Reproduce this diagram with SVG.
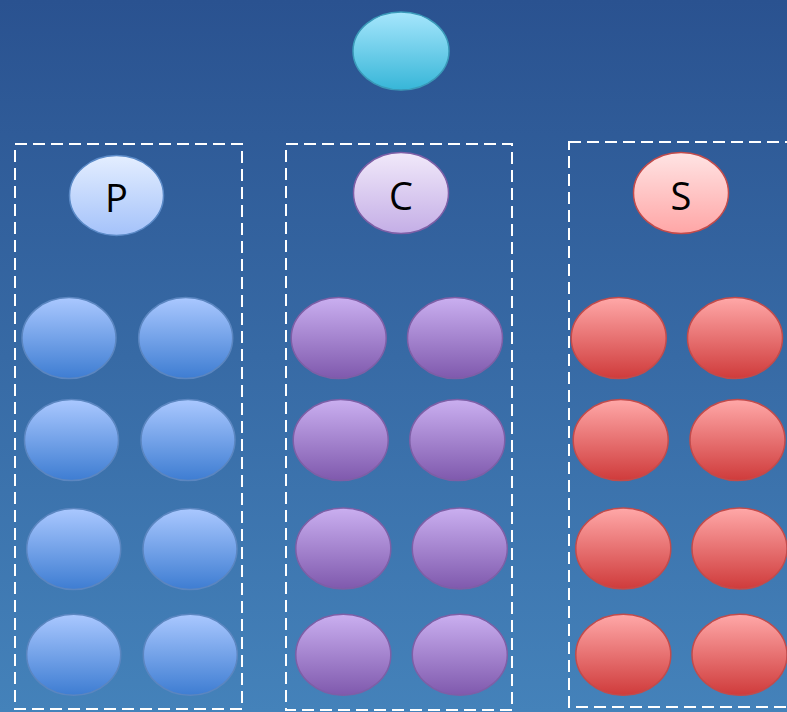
<svg xmlns="http://www.w3.org/2000/svg" width="787" height="712" viewBox="0 0 787 712">
<defs>
<linearGradient id="bg" x1="0" y1="0" x2="0" y2="1">
<stop offset="0" stop-color="#2a5290"/>
<stop offset="1" stop-color="#4482ba"/>
</linearGradient>
<linearGradient id="gTop" x1="0" y1="0" x2="0" y2="1">
<stop offset="0" stop-color="#a6e6fc"/>
<stop offset="1" stop-color="#37b6d8"/>
</linearGradient>
<linearGradient id="gPh" x1="0" y1="0" x2="0" y2="1">
<stop offset="0" stop-color="#e4eeff"/>
<stop offset="1" stop-color="#a4c2fa"/>
</linearGradient>
<linearGradient id="gCh" x1="0" y1="0" x2="0" y2="1">
<stop offset="0" stop-color="#f1e9fa"/>
<stop offset="1" stop-color="#c4aee6"/>
</linearGradient>
<linearGradient id="gSh" x1="0" y1="0" x2="0" y2="1">
<stop offset="0" stop-color="#ffe4e4"/>
<stop offset="1" stop-color="#ffa6a6"/>
</linearGradient>
<linearGradient id="gP" x1="0" y1="0" x2="0" y2="1">
<stop offset="0" stop-color="#aac8ff"/>
<stop offset="1" stop-color="#3e7dd2"/>
</linearGradient>
<linearGradient id="gC" x1="0" y1="0" x2="0" y2="1">
<stop offset="0" stop-color="#caaff0"/>
<stop offset="1" stop-color="#7f59ad"/>
</linearGradient>
<linearGradient id="gS" x1="0" y1="0" x2="0" y2="1">
<stop offset="0" stop-color="#ffa8a8"/>
<stop offset="1" stop-color="#cf3b3b"/>
</linearGradient>
</defs>
<style>
.box{fill:none;stroke:#ffffff;stroke-width:2;stroke-dasharray:12 6}
.p{fill:url(#gP);stroke:#5b86c0;stroke-width:1.5}
.c{fill:url(#gC);stroke:#7d5fa6;stroke-width:1.5}
.s{fill:url(#gS);stroke:#c24b4b;stroke-width:1.5}
.lbl{font-family:"Open Sans","Liberation Sans",sans-serif;font-size:38px;fill:#000;text-anchor:middle}
</style>
<rect x="0" y="0" width="787" height="712" fill="url(#bg)"/>
<g id="connectors"/>
<g id="root"><ellipse cx="401" cy="51" rx="48" ry="39" fill="url(#gTop)" stroke="#3a9ab9" stroke-width="1.5"/></g>
<g id="groupP">
<rect class="box" x="15" y="144" width="227" height="565"/>
<g id="P"><ellipse cx="116.5" cy="195.5" rx="47" ry="40" fill="url(#gPh)" stroke="#5b8ac7" stroke-width="1.5"/><text class="lbl" x="116.5" y="211.5">P</text></g>
<g id="P1"><ellipse class="p" cx="69" cy="338" rx="47" ry="40.5"/></g>
<g id="P2"><ellipse class="p" cx="185.7" cy="338" rx="47" ry="40.5"/></g>
<g id="P3"><ellipse class="p" cx="71.5" cy="440" rx="47" ry="40.5"/></g>
<g id="P4"><ellipse class="p" cx="188" cy="440" rx="47" ry="40.5"/></g>
<g id="P5"><ellipse class="p" cx="73.7" cy="549" rx="47" ry="40.5"/></g>
<g id="P6"><ellipse class="p" cx="190" cy="549" rx="47" ry="40.5"/></g>
<g id="P7"><ellipse class="p" cx="73.7" cy="654.7" rx="47" ry="40.5"/></g>
<g id="P8"><ellipse class="p" cx="190.3" cy="654.7" rx="47" ry="40.5"/></g>
</g>
<g id="groupC">
<rect class="box" x="286" y="144" width="226" height="566"/>
<g id="C"><ellipse cx="401" cy="193" rx="47.5" ry="40.5" fill="url(#gCh)" stroke="#7d5fa6" stroke-width="1.5"/><text class="lbl" x="401" y="209.5">C</text></g>
<g id="C1"><ellipse class="c" cx="338.7" cy="338" rx="47.5" ry="40.5"/></g>
<g id="C2"><ellipse class="c" cx="455" cy="338" rx="47.5" ry="40.5"/></g>
<g id="C3"><ellipse class="c" cx="340.7" cy="440" rx="47.5" ry="40.5"/></g>
<g id="C4"><ellipse class="c" cx="457.3" cy="440" rx="47.5" ry="40.5"/></g>
<g id="C5"><ellipse class="c" cx="343.3" cy="548.5" rx="47.5" ry="40.5"/></g>
<g id="C6"><ellipse class="c" cx="459.8" cy="548.5" rx="47.5" ry="40.5"/></g>
<g id="C7"><ellipse class="c" cx="343.3" cy="654.8" rx="47.5" ry="40.5"/></g>
<g id="C8"><ellipse class="c" cx="459.8" cy="654.8" rx="47.5" ry="40.5"/></g>
</g>
<g id="groupS">
<rect class="box" x="569" y="142" width="240" height="565"/>
<g id="S"><ellipse cx="681" cy="193" rx="47.5" ry="40.5" fill="url(#gSh)" stroke="#c24b4b" stroke-width="1.5"/><text class="lbl" x="681" y="209.5">S</text></g>
<g id="S1"><ellipse class="s" cx="618.7" cy="338" rx="47.5" ry="40.5"/></g>
<g id="S2"><ellipse class="s" cx="735" cy="338" rx="47.5" ry="40.5"/></g>
<g id="S3"><ellipse class="s" cx="620.7" cy="440" rx="47.5" ry="40.5"/></g>
<g id="S4"><ellipse class="s" cx="737.5" cy="440" rx="47.5" ry="40.5"/></g>
<g id="S5"><ellipse class="s" cx="623.3" cy="548.5" rx="47.5" ry="40.5"/></g>
<g id="S6"><ellipse class="s" cx="739.5" cy="548.5" rx="47.5" ry="40.5"/></g>
<g id="S7"><ellipse class="s" cx="623.3" cy="654.8" rx="47.5" ry="40.5"/></g>
<g id="S8"><ellipse class="s" cx="739.5" cy="654.8" rx="47.5" ry="40.5"/></g>
</g>
</svg>
